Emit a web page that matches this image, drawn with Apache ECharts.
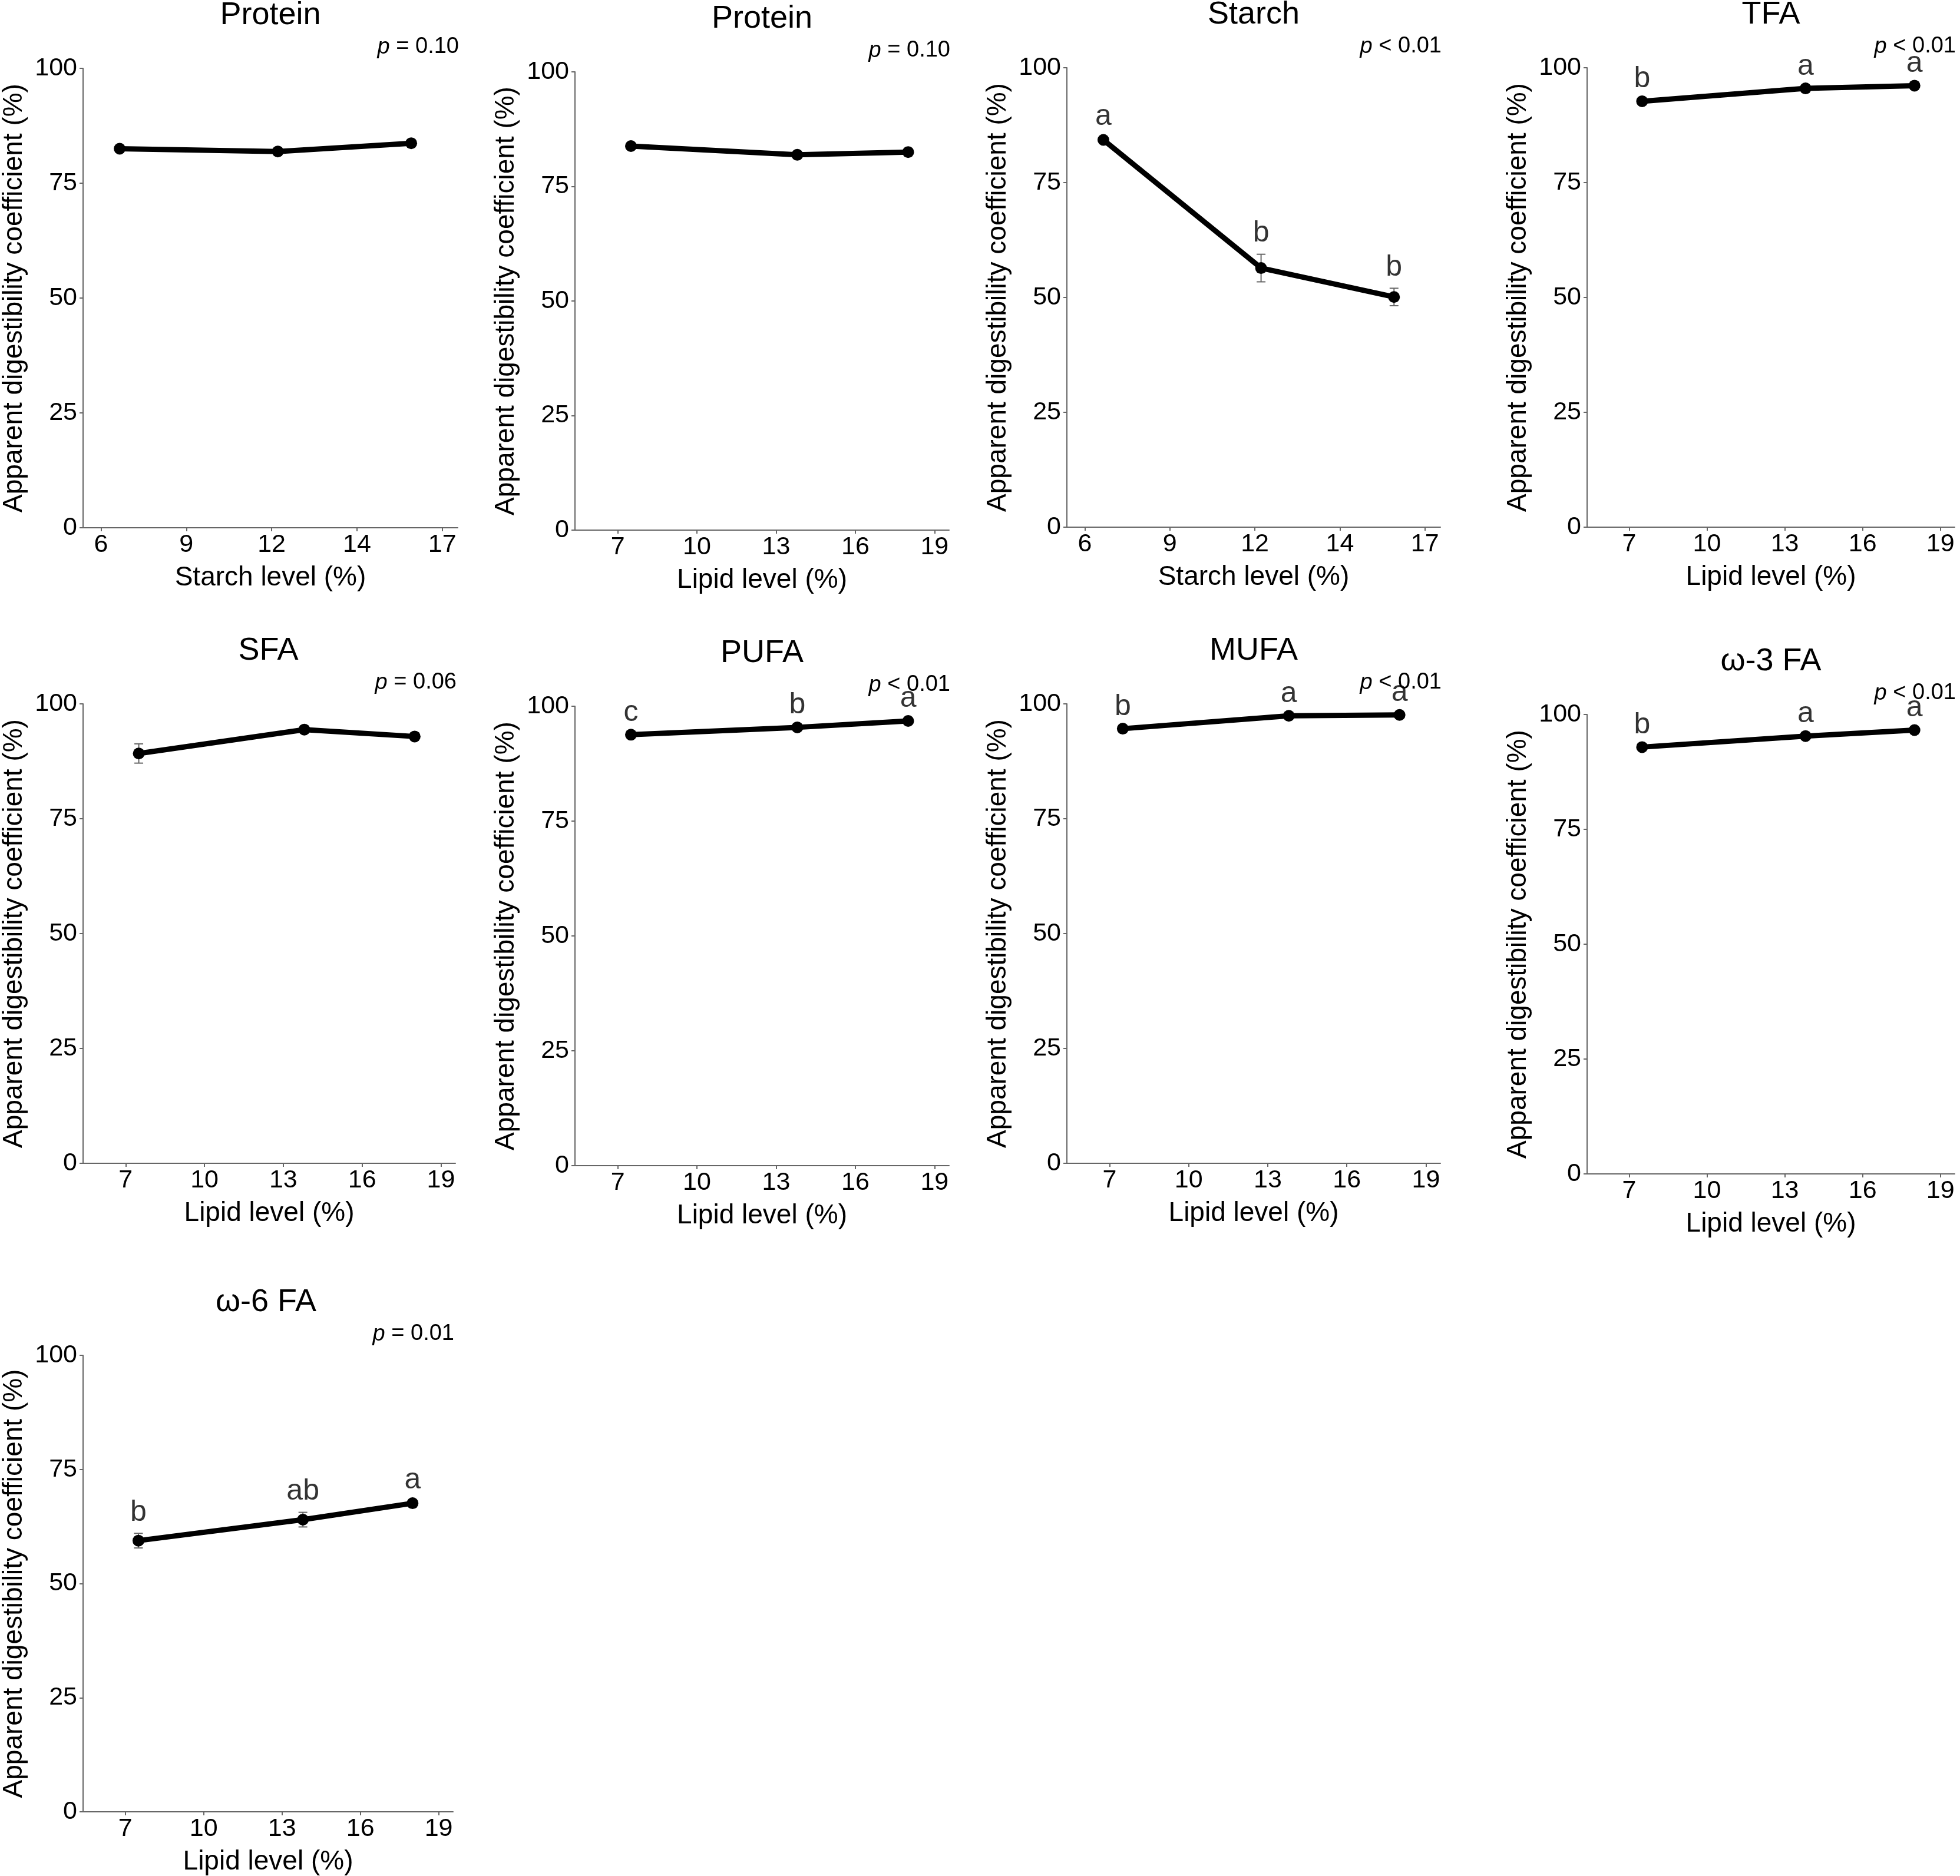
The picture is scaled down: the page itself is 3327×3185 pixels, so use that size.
<!DOCTYPE html>
<html><head><meta charset="utf-8">
<script src="https://cdn.jsdelivr.net/npm/echarts@6/dist/echarts.min.js"></script>
<style>html,body{margin:0;padding:0;background:#fff}#c{width:3327px;height:3185px}</style>
</head><body><div id="c"></div>
<script>
// ---------------- data ----------------
const starchLevels = [6.6, 11.7, 16.0];
const lipidLevels = [7.5, 13.8, 18.0];
const starchTickLabels = ['6', '9', '12', '14', '17'];
const lipidTickLabels = ['7', '10', '13', '16', '19'];
const yTickValues = [0, 25, 50, 75, 100];

const panelTitles = ['Protein', 'Protein', 'Starch', 'TFA', 'SFA', 'PUFA', 'MUFA', 'ω-3 FA', 'ω-6 FA'];
const panelFactors = ['starch', 'lipid', 'starch', 'lipid', 'lipid', 'lipid', 'lipid', 'lipid', 'lipid'];
const pValueTexts = ['= 0.10', '= 0.10', '< 0.01', '< 0.01', '= 0.06', '< 0.01', '< 0.01', '< 0.01', '= 0.01'];

const proteinByStarchMean = [82.5, 81.9, 83.7];
const proteinByStarchSE = [0.4, 0.4, 0.4];
const proteinByLipidMean = [83.8, 81.9, 82.5];
const proteinByLipidSE = [0.4, 0.4, 0.4];
const starchMean = [84.3, 56.4, 50.1];
const starchSE = [0.6, 3.0, 1.9];
const tfaMean = [92.7, 95.5, 96.1];
const tfaSE = [0.4, 0.3, 0.3];
const sfaMean = [89.2, 94.4, 92.9];
const sfaSE = [2.1, 0.4, 0.3];
const pufaMean = [93.8, 95.4, 96.8];
const pufaSE = [0.3, 0.3, 0.3];
const mufaMean = [94.6, 97.4, 97.6];
const mufaSE = [0.3, 0.3, 0.3];
const n3Mean = [92.9, 95.3, 96.6];
const n3SE = [0.3, 0.3, 0.3];
const n6Mean = [59.4, 64.0, 67.6];
const n6SE = [1.6, 1.6, 0.5];

const starchLetters = ['a', 'b', 'b'];
const tfaLetters = ['b', 'a', 'a'];
const pufaLetters = ['c', 'b', 'a'];
const mufaLetters = ['b', 'a', 'a'];
const n3Letters = ['b', 'a', 'a'];
const n6Letters = ['b', 'ab', 'a'];

const panelMeans = [proteinByStarchMean, proteinByLipidMean, starchMean, tfaMean, sfaMean, pufaMean, mufaMean, n3Mean, n6Mean];
const panelSEs = [proteinByStarchSE, proteinByLipidSE, starchSE, tfaSE, sfaSE, pufaSE, mufaSE, n3SE, n6SE];
const panelLetters = [null, null, starchLetters, tfaLetters, null, pufaLetters, mufaLetters, n3Letters, n6Letters];

// ---------------- layout (px) ----------------
const layout = [
  {l: 141, r: 777, t: 116, b: 896},
  {l: 976, r: 1611, t: 122, b: 900},
  {l: 1811, r: 2445, t: 115, b: 895},
  {l: 2694, r: 3318, t: 115, b: 895},
  {l: 138, r: 773, t: 1195, b: 1975},
  {l: 976, r: 1611, t: 1199, b: 1979},
  {l: 1811, r: 2445, t: 1195, b: 1975},
  {l: 2694, r: 3318, t: 1213, b: 1993},
  {l: 134, r: 769, t: 2301, b: 3081}
];
const axisRange = {starch: [5.42, 17.5], lipid: [5.38, 19.55]};
const axisName = {starch: 'Starch level (%)', lipid: 'Lipid level (%)'};
const levels = {starch: starchLevels, lipid: lipidLevels};
const tickLabels = {starch: starchTickLabels, lipid: lipidTickLabels};

const FONT = '"Liberation Sans", Arial, sans-serif';
const AXIS_COLOR = '#666';

function tickPositions(labels) {
  const a = parseFloat(labels[0]), b = parseFloat(labels[labels.length - 1]);
  return labels.map((_, i) => a + i * (b - a) / (labels.length - 1));
}

const grids = [], xAxes = [], yAxes = [], series = [], graphics = [];

panelTitles.forEach((title, i) => {
  const L = layout[i];
  const f = panelFactors[i];
  const pos = tickPositions(tickLabels[f]);
  grids.push({left: L.l, top: L.t, width: L.r - L.l, height: L.b - L.t, containLabel: false});
  xAxes.push({
    gridIndex: i, type: 'value', min: axisRange[f][0], max: axisRange[f][1],
    name: axisName[f], nameLocation: 'middle', nameGap: 62,
    nameTextStyle: {fontSize: 46, color: '#000', fontFamily: FONT},
    axisLine: {show: true, onZero: false, lineStyle: {color: AXIS_COLOR, width: 2}},
    axisTick: {show: true, length: 6, customValues: pos, lineStyle: {color: AXIS_COLOR, width: 2}},
    axisLabel: {
      show: true, customValues: pos, margin: 8, fontSize: 43, color: '#000', fontFamily: FONT,
      formatter: v => {
        let best = 0;
        pos.forEach((p, k) => { if (Math.abs(p - v) < Math.abs(pos[best] - v)) best = k; });
        return tickLabels[f][best];
      }
    },
    splitLine: {show: false}
  });
  yAxes.push({
    gridIndex: i, type: 'value', min: 0, max: 100, interval: 25,
    name: 'Apparent digestibility coefficient (%)', nameLocation: 'middle', nameGap: 94,
    nameTextStyle: {fontSize: 46, color: '#000', fontFamily: FONT},
    axisLine: {show: true, lineStyle: {color: AXIS_COLOR, width: 2}},
    axisTick: {show: true, length: 6, lineStyle: {color: AXIS_COLOR, width: 2}},
    axisLabel: {show: true, margin: 10, fontSize: 43, color: '#000', fontFamily: FONT,
      customValues: yTickValues},
    splitLine: {show: false}
  });

  const xs = levels[f];
  const means = panelMeans[i];
  const ses = panelSEs[i];

  series.push({
    type: 'custom', xAxisIndex: i, yAxisIndex: i, z: 1, silent: true,
    data: xs.map((x, k) => [x, means[k] - ses[k], means[k] + ses[k]]),
    renderItem: (params, api) => {
      const x = api.value(0);
      const p1 = api.coord([x, api.value(1)]);
      const p2 = api.coord([x, api.value(2)]);
      const w = 7.5;
      const st = {stroke: '#666', lineWidth: 2};
      return {type: 'group', children: [
        {type: 'line', shape: {x1: p1[0], y1: p1[1], x2: p2[0], y2: p2[1]}, style: st},
        {type: 'line', shape: {x1: p1[0] - w, y1: p1[1], x2: p1[0] + w, y2: p1[1]}, style: st},
        {type: 'line', shape: {x1: p2[0] - w, y1: p2[1], x2: p2[0] + w, y2: p2[1]}, style: st}
      ]};
    }
  });

  series.push({
    type: 'line', xAxisIndex: i, yAxisIndex: i, z: 3, silent: true,
    data: xs.map((x, k) => [x, means[k]]),
    symbol: 'circle', symbolSize: 20, showSymbol: true,
    lineStyle: {color: '#000', width: 9},
    itemStyle: {color: '#000'}
  });

  if (panelLetters[i]) {
    series.push({
      type: 'scatter', xAxisIndex: i, yAxisIndex: i, z: 4, silent: true,
      symbolSize: 0,
      data: xs.map((x, k) => ({value: [x, means[k] + ses[k]], name: panelLetters[i][k]})),
      label: {show: true, position: 'top', distance: 10, formatter: '{b}',
        fontSize: 50, color: '#000', fontFamily: FONT}
    });
  }

  const cx = (L.l + L.r) / 2;
  graphics.push({
    type: 'text', x: cx, y: L.t - 90, silent: true,
    style: {text: title, fontSize: 54, fill: '#000', fontFamily: FONT, textAlign: 'center', textVerticalAlign: 'middle'}
  });
  graphics.push({
    type: 'text', x: L.r + 2, y: L.t - 36, silent: true,
    style: {
      text: '{i|p} ' + pValueTexts[i], fontSize: 38, fill: '#000', fontFamily: FONT,
      textAlign: 'right', textVerticalAlign: 'middle',
      rich: {i: {fontStyle: 'italic', fontSize: 38, fontFamily: FONT, fill: '#000'}}
    }
  });
});

const chart = echarts.init(document.getElementById('c'), null, {renderer: 'canvas'});
chart.setOption({
  backgroundColor: '#fff',
  animation: false,
  grid: grids,
  xAxis: xAxes,
  yAxis: yAxes,
  series: series,
  graphic: graphics
});
</script>
</body></html>
